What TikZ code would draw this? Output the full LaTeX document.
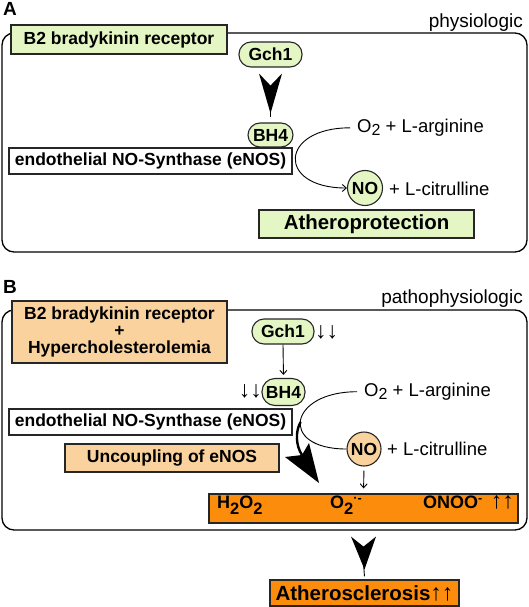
\documentclass[tikz,border=0pt]{standalone}
\usepackage{fontspec}
\setmainfont{Liberation Sans}
\usetikzlibrary{arrows.meta,calc}
\definecolor{lgreen}{RGB}{228,246,196}
\definecolor{peach}{RGB}{250,210,158}
\definecolor{orng}{RGB}{252,140,12}
\newcommand\lowtwo{\raisebox{-2.5pt}{\fontsize{16}{16}\selectfont 2}}
\newcommand\boldlowtwo{\raisebox{-5.5pt}{\fontsize{16.5}{16}\selectfont 2}}
\newcommand\bigarr[1]{{\fontsize{23}{20}\selectfont #1}}
\tikzset{
  box/.style={draw=black!85, line width=1.1pt, inner sep=0pt, font=\fontsize{17.5}{17}\selectfont\bfseries, align=center},
  pill/.style={box, rounded corners=12pt, fill=lgreen},
  lbl/.style={inner sep=0pt, font=\fontsize{18.5}{19}\selectfont},
  boldlbl/.style={inner sep=0pt, font=\fontsize{18}{19}\selectfont\bfseries},
  panel/.style={inner sep=0pt, font=\fontsize{19}{19}\selectfont\bfseries},
  frame/.style={draw=black, line width=1.3pt, rounded corners=12pt},
  thinline/.style={line width=0.9pt},
  smallarr/.style={thinline, -{Straight Barb[length=4pt,width=7pt]}},
}
\begin{document}
\begin{tikzpicture}[x=1pt,y=-1pt]
\useasboundingbox (0,0) rectangle (529,607);
% ---------------- Panel A ----------------
\node[panel, anchor=base west] (labA) at (3,15.5) {A};
\draw[frame] (2,33) rectangle (527,252);
\node[lbl, font=\fontsize{19}{19}\selectfont, anchor=base east] (physA) at (523,27.4) {physiologic};
\node[box, fill=lgreen, minimum width=216pt, minimum height=29pt] (b2a) at (119,39.5) {B2 bradykinin receptor};
\node[pill, minimum width=63pt, minimum height=25pt] (gA) at (270.5,54.5) {Gch1};
\node[pill, minimum width=45pt, minimum height=24pt] (bhA) at (270.5,135) {BH4};
\node[box, fill=white, minimum width=283pt, minimum height=26pt] (enA) at (150.5,161) {endothelial NO-Synthase (eNOS)};
\node[lbl, anchor=base west] (o2A) at (357,132.6) {O\lowtwo{} + L-arginine};
\node[box, circle, fill=lgreen, minimum size=35pt] (noA) at (365,188) {NO};
\node[lbl, anchor=base west] (citA) at (389,195) {+ L-citrulline};
\node[box, fill=lgreen, minimum width=215pt, minimum height=28pt, font=\fontsize{20.4}{20}\selectfont\bfseries] (athA) at (366.5,224) {Atheroprotection};
% big arrowhead Gch1 -> BH4
\fill ([xshift=-11.5pt,yshift=-6pt]gA.south) -- ([yshift=9pt]bhA.north) -- ([xshift=11.5pt,yshift=-6pt]gA.south) -- ([yshift=-18pt]gA.south) -- cycle;
\draw[thinline] ([yshift=-30pt]gA.south) -- ([yshift=5pt]bhA.north);
% reaction curve
\draw[smallarr] ([xshift=-7pt]o2A.west) to[out=180,in=180,looseness=3] (noA.west);
% ---------------- Panel B ----------------
\node[panel, anchor=base west] (labB) at (3,293) {B};
\draw[frame] (2,310) rectangle (527,530);
\node[lbl, font=\fontsize{19}{19}\selectfont, anchor=base east] (physB) at (523,303) {pathophysiologic};
\node[box, fill=peach, minimum width=215pt, minimum height=62pt] (b2b) at (119.5,332) {B2 bradykinin receptor\\+\\Hypercholesterolemia};
\node[pill, minimum width=62pt, minimum height=25pt] (gB) at (283,331.5) {Gch1};
\node[lbl, anchor=west] (dnG) at (315,332.5) {\bigarr{↓↓}};
\node[pill, minimum width=43pt, minimum height=27pt, rounded corners=13pt] (bhB) at (283.5,392) {BH4};
\node[lbl, anchor=east] (dnB) at (262,391.5) {\bigarr{↓↓}};
\node[box, fill=white, minimum width=283pt, minimum height=26pt] (enB) at (150.5,422) {endothelial NO-Synthase (eNOS)};
\node[box, fill=peach, minimum width=214pt, minimum height=28pt] (unc) at (172,458) {Uncoupling of eNOS};
\node[lbl, anchor=base west] (o2B) at (364,396.5) {O\lowtwo{} + L-arginine};
\node[box, circle, fill=peach, minimum size=34pt] (noB) at (364,449) {NO};
\node[lbl, anchor=base west] (citB) at (387,455) {+ L-citrulline};
\node[box, fill=orng, minimum width=309pt, minimum height=29pt] (ros) at (363.5,508.5) {};
\node[boldlbl, anchor=base west] (h2o2) at (217,508.5) {H\boldlowtwo{}O\boldlowtwo{}};
\node[boldlbl, anchor=base west] (sup) at (330,508.5) {O\boldlowtwo{}\textsuperscript{·-}};
\node[boldlbl, anchor=base east] (onoo) at (514,508.5) {ONOO\textsuperscript{-}\hspace{8pt}\bigarr{↑↑}};
\node[box, fill=orng, minimum width=189pt, minimum height=26pt, font=\fontsize{20.5}{20}\selectfont\bfseries] (athB) at (364.5,593) {Atherosclerosis\bigarr{↑↑}};
% arrows
\draw[smallarr, shorten >=3pt] (gB.south) -- (bhB.north);
\draw[smallarr, shorten <=4pt, shorten >=5pt] (noB.south) -- (ros.north);
\draw[thinline] ([xshift=-7pt]o2B.west) to[out=180,in=180,looseness=3] (noB.west);
% thick uncoupling arrow
\coordinate (u0) at ([xshift=8pt]enB.east);
\coordinate (uTip) at (319,483);
\draw[line width=2.4pt] (u0) .. controls (295,432) and (296,446) .. (302,455);
\fill (285,457) -- (uTip) -- (309,443) -- (302,455) -- cycle;
% big arrowhead ROS -> Atherosclerosis
\fill ([xshift=-12.5pt,yshift=-13pt]ros.south) -- ([yshift=10pt]athB.north) -- ([xshift=12.5pt,yshift=-13pt]ros.south) -- ([yshift=-23pt]ros.south) -- cycle;
\draw[thinline] ([yshift=-40pt]ros.south) -- ([yshift=3pt]athB.north);
\end{tikzpicture}
\end{document}
